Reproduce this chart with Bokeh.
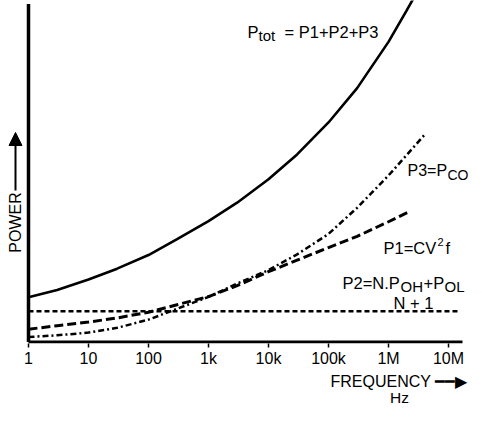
import math
from bokeh.plotting import figure
from bokeh.models import FixedTicker, Label, Arrow, NormalHead, Range1d
from bokeh.embed import file_html
from bokeh.resources import INLINE

# ---------------- data ----------------
freq_tot = [1, 3, 10, 30, 100, 300, 1e3, 3e3, 1e4, 3e4, 1e5, 3e5, 1e6, 2e6, 3e6]
p_tot = [1.32, 1.53, 1.84, 2.16, 2.56, 3.03, 3.56, 4.10, 4.79, 5.52, 6.46, 7.47, 8.83, 9.75, 10.3]

freq_p3 = [1, 3, 10, 30, 100, 300, 1e3, 3e3, 1e4, 3e4, 1e5, 3e5, 1e6, 2e6, 4e6]
p3 = [0.15, 0.20, 0.28, 0.42, 0.66, 0.98, 1.33, 1.72, 2.12, 2.58, 3.18, 3.95, 4.90, 5.50, 6.10]

freq_p1 = [1, 3, 10, 30, 100, 300, 1e3, 3e3, 1e4, 3e4, 1e5, 3e5, 1e6, 2.3e6]
p1 = [0.38, 0.48, 0.59, 0.71, 0.88, 1.10, 1.34, 1.66, 2.07, 2.41, 2.78, 3.11, 3.54, 3.85]

freq_p2 = [1, 1.5e7]
p2 = [0.91, 0.91]

tick_freqs = [1, 10, 100, 1000, 10000, 100000, 1000000, 10000000]
tick_labels = ["1", "10", "100", "1k", "10k", "100k", "1M", "10M"]

# extents of the drawn axis lines
F_MIN, F_MAX = 1, 10 ** (434 / 60)
P_MIN, P_MAX = 0, 338 / 34

# ---------------- figure ----------------
FONT = "Liberation Sans"
W, H = 469, 405
p = figure(width=W, height=H, x_axis_type="log",
           x_range=Range1d(10 ** (-28 / 60), 10 ** (441 / 60)),
           y_range=Range1d(-1.4 / 34, 341.6 / 34),
           y_axis_location=None, toolbar_location=None, output_backend="svg",
           min_border_left=0, min_border_right=0, min_border_top=0,
           min_border_bottom=62)
p.outline_line_color = None
p.xgrid.visible = False
p.ygrid.visible = False
p.background_fill_color = "white"
p.border_fill_color = "white"

ax = p.xaxis[0]
ax.ticker = FixedTicker(ticks=tick_freqs)
ax.major_label_overrides = {t: s for t, s in zip(tick_freqs, tick_labels)}
ax.axis_line_color = None
ax.major_tick_out = 4
ax.major_tick_in = 0
ax.major_tick_line_width = 1.5
ax.major_tick_line_color = "black"
ax.minor_tick_line_color = None
ax.major_label_text_font = FONT
ax.major_label_text_font_size = "16px"
ax.major_label_text_color = "black"
ax.major_label_standoff = 2

# axis lines (frequency axis along P=0, power axis at f=1)
p.segment(x0=[F_MIN], y0=[P_MIN], x1=[F_MAX], y1=[P_MIN], line_width=3, line_color="black")
p.segment(x0=[F_MIN], y0=[P_MIN], x1=[F_MIN], y1=[P_MAX], line_width=3.5, line_color="black")

# ---------------- curves ----------------
p.line(freq_tot, p_tot, line_width=2.6, line_color="black")
p.line(freq_p1, p1, line_width=3, line_color="black", line_dash="9 4")
p.line(freq_p3, p3, line_width=2.5, line_color="black", line_dash="6 3 2 3")
p.line(freq_p2, p2, line_width=2.5, line_color="black", line_dash="5 3")


# ---------------- annotations (canvas pixel positions) ----------------
def txt(s, px, py, size=16.5, place=None, font=FONT, **kw):
    lab = Label(x=px, y=py, x_units="canvas", y_units="canvas",
                text=s, text_font=font,
                text_font_size=f"{size}px", text_color="black",
                text_baseline=kw.pop("baseline", "middle"),
                text_align=kw.pop("align", "left"), **kw)
    if place:
        p.add_layout(lab, place)
    else:
        p.add_layout(lab)


# P_tot = P1+P2+P3
txt("P", 247, 31)
txt("tot", 258, 35, 15)
txt("= P1+P2+P3", 284, 31)

# P3 = P_CO
txt("P3=P", 407, 170, 16)
txt("CO", 447, 174, 14)

# P1 = CV^2 f
txt("P1=CV", 383, 247)
txt("2", 437, 241, 11)
txt("f", 445, 247)

# P2 = (N.P_OH + P_OL) / (N + 1)
txt("P2=N.P", 342, 282)
txt("OH", 400, 286, 15)
txt("+P", 423, 282)
txt("OL", 444, 286, 15)
txt("N + 1", 393, 302)

# power axis title with arrow (inside the frame)
txt("POWER", 15, 222, 16, align="center", angle=math.pi / 2)
p.add_layout(Arrow(end=NormalHead(size=13, fill_color="black", line_color="black"),
                   x_start=15, y_start=190, x_end=15, y_end=132,
                   start_units="canvas", end_units="canvas",
                   line_width=2, line_color="black"))

# frequency axis title with its arrow as one text, and the unit (below the frame)
txt("FREQUENCY \u2501\u2501\u25B6", 330, 381, 16, place="below")
txt("Hz", 399, 397, 15.5, align="center", place="below")

open("out.html", "w").write(file_html(p, INLINE))
